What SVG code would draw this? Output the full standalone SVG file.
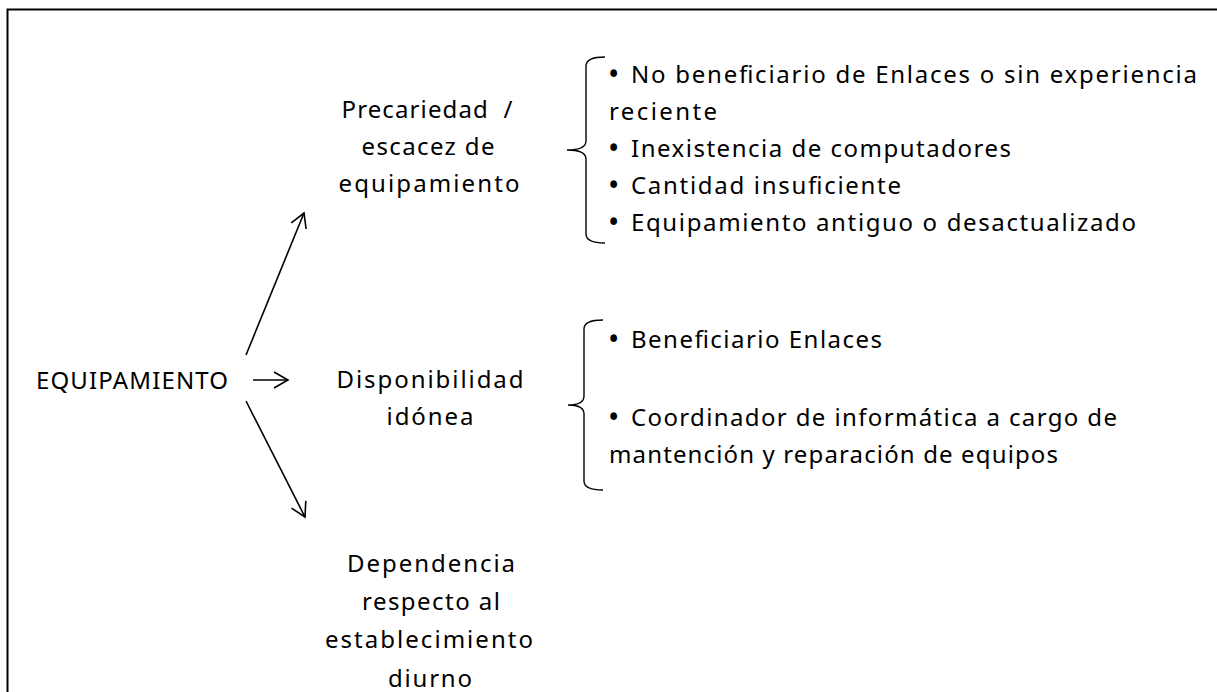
<svg xmlns="http://www.w3.org/2000/svg" width="1217" height="692" viewBox="0 0 1217 692">
<style>
text{font-family:"Noto Sans","Open Sans",sans-serif;font-size:24px;fill:#000}
.c{text-anchor:middle}
.b{font-size:30px}
.ln{fill:none;stroke:#000;stroke-width:1.6}
.br{fill:none;stroke:#000;stroke-width:1.4}
</style>
<defs>
<marker id="ah" markerWidth="24" markerHeight="24" refX="20" refY="12" orient="auto" markerUnits="userSpaceOnUse">
<path d="M6,4 L20,12 L6,20" fill="none" stroke="#000" stroke-width="1.6"/>
</marker>
</defs>
<rect x="0" y="0" width="1217" height="692" fill="#fff"/>
<path d="M7.5,692 L7.5,9.5 L1217,9.5" fill="none" stroke="#000" stroke-width="2"/>
<g id="equipamiento"><text x="36" y="389" textLength="192" lengthAdjust="spacing">EQUIPAMIENTO</text></g>
<g id="precariedad">
<text class="c" x="427" y="118" textLength="171" lengthAdjust="spacing" style="white-space:pre" xml:space="preserve">Precariedad  /</text>
<text class="c" x="428" y="155" textLength="133" lengthAdjust="spacing">escacez de</text>
<text class="c" x="429" y="192" textLength="181" lengthAdjust="spacing">equipamiento</text>
</g>
<g id="disponibilidad">
<text class="c" x="430" y="388" textLength="187" lengthAdjust="spacing">Disponibilidad</text>
<text class="c" x="430" y="425" textLength="87" lengthAdjust="spacing">idónea</text>
</g>
<g id="dependencia">
<text class="c" x="431" y="572" textLength="168" lengthAdjust="spacing">Dependencia</text>
<text class="c" x="431" y="610" textLength="138" lengthAdjust="spacing">respecto al</text>
<text class="c" x="429" y="648" textLength="208" lengthAdjust="spacing">establecimiento</text>
<text class="c" x="430" y="687" textLength="84" lengthAdjust="spacing">diurno</text>
</g>
<g id="lista-precariedad">
<path class="br" d="M605,57 Q586,57 586,66 L586,141 Q586,150 567,150 Q586,150 586,159 L586,234 Q586,243 605,243"/>
<text class="b" x="608" y="85">•</text><text x="631" y="83" textLength="566" lengthAdjust="spacing">No beneficiario de Enlaces o sin experiencia</text>
<text x="609" y="120" textLength="108" lengthAdjust="spacing">reciente</text>
<text class="b" x="608" y="159">•</text><text x="631" y="157" textLength="380" lengthAdjust="spacing">Inexistencia de computadores</text>
<text class="b" x="608" y="196">•</text><text x="631" y="194" textLength="270" lengthAdjust="spacing">Cantidad insuficiente</text>
<text class="b" x="608" y="233">•</text><text x="631" y="231" textLength="505" lengthAdjust="spacing">Equipamiento antiguo o desactualizado</text>
</g>
<g id="lista-disponibilidad">
<path class="br" d="M603,320 Q584,320 584,329 L584,396 Q584,405 568,405 Q584,405 584,414 L584,481 Q584,490 603,490"/>
<text class="b" x="608" y="350">•</text><text x="631" y="348" textLength="251" lengthAdjust="spacing">Beneficiario Enlaces</text>
<text class="b" x="608" y="428">•</text><text x="631" y="426" textLength="486" lengthAdjust="spacing">Coordinador de informática a cargo de</text>
<text x="609" y="463" textLength="449" lengthAdjust="spacing">mantención y reparación de equipos</text>
</g>
<g id="connectors">
<line class="ln" x1="246" y1="355" x2="304" y2="213" marker-end="url(#ah)"/>
<line class="ln" x1="253" y1="380" x2="288" y2="380" marker-end="url(#ah)"/>
<line class="ln" x1="246" y1="401" x2="305" y2="517" marker-end="url(#ah)"/>
</g>
</svg>
